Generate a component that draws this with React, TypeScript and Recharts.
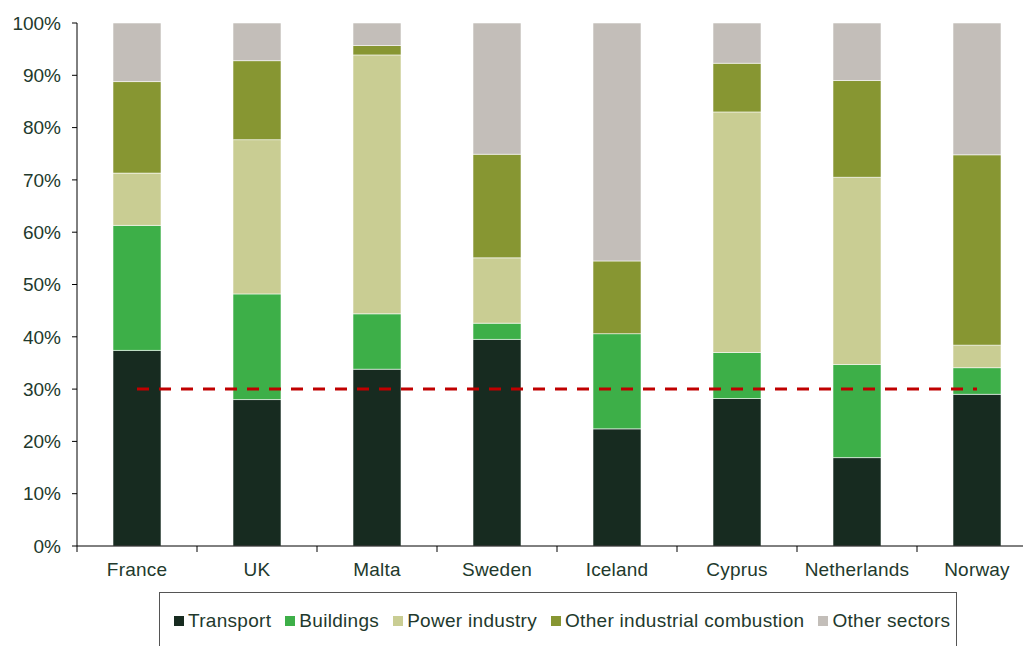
import { Bar, ComposedChart, Line, XAxis, YAxis } from 'recharts';

const countries = ['France', 'UK', 'Malta', 'Sweden', 'Iceland', 'Cyprus', 'Netherlands', 'Norway'];

// sector shares, % of total
const transport = [37.4, 28.0, 33.8, 39.5, 22.4, 28.2, 16.9, 29.0];
const buildings = [23.9, 20.2, 10.6, 3.1, 18.2, 8.8, 17.8, 5.1];
const powerIndustry = [10.0, 29.5, 49.5, 12.5, 0, 46.0, 35.8, 4.3];
const otherCombustion = [17.5, 15.1, 1.8, 19.8, 13.9, 9.3, 18.5, 36.4];
const otherSectors = [11.2, 7.2, 4.3, 25.1, 45.5, 7.7, 11.0, 25.2];
const target = [30, 30, 30, 30, 30, 30, 30, 30];

const yTicks = [0, 10, 20, 30, 40, 50, 60, 70, 80, 90, 100];

const series = [
    { key: 'transport', name: 'Transport', color: '#172b20' },
    { key: 'buildings', name: 'Buildings', color: '#3daf48' },
    { key: 'power', name: 'Power industry', color: '#c9cd93' },
    { key: 'otherComb', name: 'Other industrial combustion', color: '#879632' },
    { key: 'otherSect', name: 'Other sectors', color: '#c3beb9' },
];

const data = countries.map((country, i) => ({
    country,
    transport: transport[i],
    buildings: buildings[i],
    power: powerIndustry[i],
    otherComb: otherCombustion[i],
    otherSect: otherSectors[i],
    target: target[i],
}));

const FONT = "'Liberation Sans', Arial, sans-serif";
const TEXT = '#22392c';
const CHART_W = 1060;
const CHART_H = 680;
const PLOT_LEFT = 77;
const PLOT_RIGHT = 1037;
const PLOT_TOP = 23;
const PLOT_BOTTOM = 546;
const BAND = (PLOT_RIGHT - PLOT_LEFT) / countries.length;

// category label centred in the band, tick mark on the band's left edge
function CategoryTick(props: any) {
    const { x, payload } = props;
    const edge = x - BAND / 2;
    return (
        <g>
            <line x1={edge} x2={edge} y1={PLOT_BOTTOM} y2={PLOT_BOTTOM + 6} stroke="#000" strokeWidth={1} />
            <text x={x} y={576} textAnchor="middle" fill={TEXT} fontSize={19} fontFamily={FONT} letterSpacing={0.2}>
                {payload.value}
            </text>
        </g>
    );
}

function SectorLegend() {
    return (
        <div
            style={{
                position: 'absolute',
                left: 159,
                top: 592,
                width: 798,
                height: 90,
                boxSizing: 'border-box',
                border: '1px solid #555',
                paddingTop: 17,
                paddingLeft: 14,
                display: 'flex',
                alignItems: 'flex-start',
                gap: 14,
                fontFamily: FONT,
                fontSize: 19,
                letterSpacing: 0.3,
                lineHeight: '22px',
                color: TEXT,
                whiteSpace: 'nowrap',
            }}
        >
            {series.map(s => (
                <div key={s.key} style={{ display: 'flex', alignItems: 'center', gap: 4, height: 22 }}>
                    <span style={{ width: 10, height: 10, background: s.color, display: 'inline-block' }} />
                    <span>{s.name}</span>
                </div>
            ))}
        </div>
    );
}

export default function App() {
    return (
        <div style={{ position: 'fixed', left: 0, top: 0, width: 1023, height: 646, overflow: 'hidden', background: '#fff' }}>
            <ComposedChart
                width={CHART_W}
                height={CHART_H}
                data={data}
                margin={{ top: PLOT_TOP, right: CHART_W - PLOT_RIGHT, bottom: 0, left: 0 }}
                barCategoryGap="30%"
            >
                <XAxis
                    dataKey="country"
                    interval={0}
                    height={CHART_H - PLOT_BOTTOM}
                    tickLine={false}
                    axisLine={{ stroke: '#000', strokeWidth: 1 }}
                    tick={<CategoryTick />}
                />
                <YAxis
                    width={PLOT_LEFT}
                    domain={[0, 100]}
                    ticks={yTicks}
                    tickFormatter={(v) => `${v}%`}
                    tickSize={5}
                    tickMargin={11}
                    tickLine={{ stroke: '#000' }}
                    axisLine={{ stroke: '#000', strokeWidth: 1 }}
                    tick={{ fill: TEXT, fontSize: 19, fontFamily: FONT }}
                />
                {series.map(s => (
                    <Bar
                        key={s.key}
                        dataKey={s.key}
                        name={s.name}
                        stackId="sectors"
                        fill={s.color}
                        stroke="rgba(255,255,255,0.55)"
                        strokeWidth={1}
                        isAnimationActive={false}
                    />
                ))}
                <Line
                    type="linear"
                    dataKey="target"
                    stroke="#c00000"
                    strokeWidth={3}
                    strokeDasharray="12 10"
                    dot={false}
                    activeDot={false}
                    isAnimationActive={false}
                />
            </ComposedChart>
            <SectorLegend />
        </div>
    );
}
